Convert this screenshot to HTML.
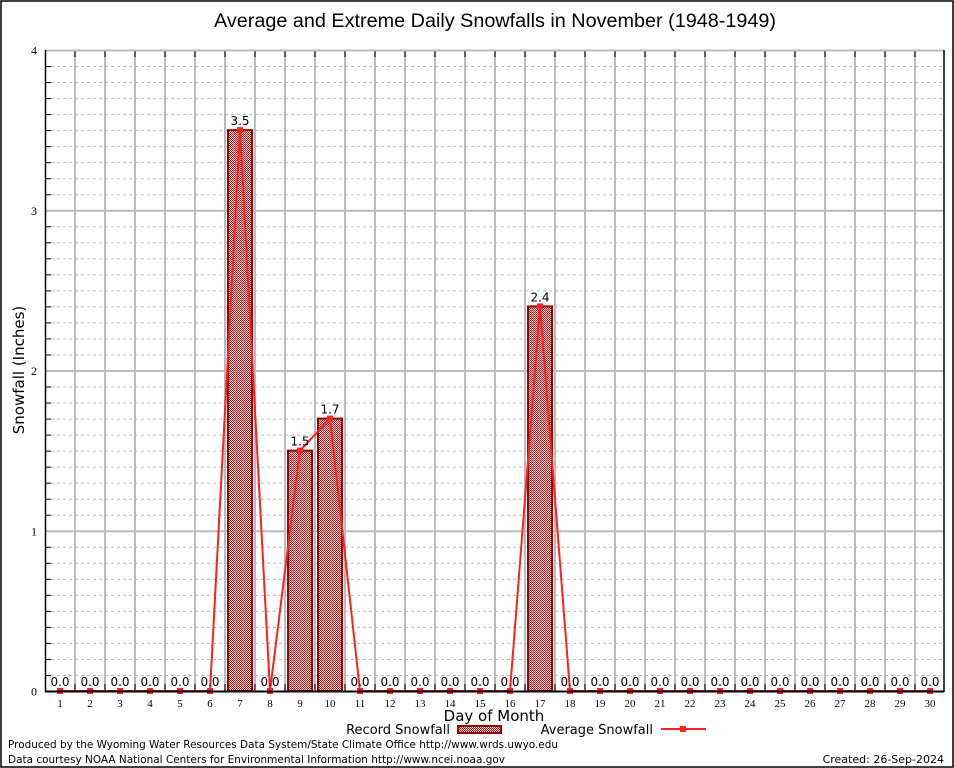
<!DOCTYPE html>
<html><head><meta charset="utf-8"><style>
body{margin:0;background:#fff}
svg{display:block;font-family:"DejaVu Sans","Liberation Sans",sans-serif}
</style></head><body>
<svg id="c" width="954" height="768" xmlns="http://www.w3.org/2000/svg">
<defs>
<pattern id="hatch" width="2" height="2" patternUnits="userSpaceOnUse">
<rect width="2" height="2" fill="#f4d0d0"/>
<rect width="1" height="1" fill="#b01010"/>
<rect x="1" y="1" width="1" height="1" fill="#c03030"/>
</pattern>
</defs>
<rect x="1" y="1" width="952" height="766" fill="#fff" stroke="#000" stroke-width="1.5"/>
<text x="495" y="27" font-size="19" text-anchor="middle" textLength="562" lengthAdjust="spacingAndGlyphs" font-family="Liberation Sans, sans-serif">Average and Extreme Daily Snowfalls in November (1948-1949)</text>
<g id="grid"></g>
<g id="bars"></g>
<g id="line"></g>
<g id="labels"></g>
<g id="axes"></g>
<text x="24" y="370" font-size="15" text-anchor="middle" transform="rotate(-90 24 370)">Snowfall (Inches)</text>
<text x="494" y="721" font-size="15" text-anchor="middle">Day of Month</text>
<g>
<text x="450" y="734" font-size="13" text-anchor="end">Record Snowfall</text>
<rect x="458" y="726" width="43" height="7" fill="url(#hatch)" stroke="#990000" stroke-width="2"/>
<text x="653" y="734" font-size="13" text-anchor="end">Average Snowfall</text>
<line x1="661" y1="729" x2="706" y2="729" stroke="#ff2020" stroke-width="2"/>
<rect x="680" y="726" width="6" height="6" fill="#ff2020"/>
</g>
<text x="8" y="748" font-size="11" textLength="550" lengthAdjust="spacingAndGlyphs">Produced by the Wyoming Water Resources Data System/State Climate Office http://www.wrds.uwyo.edu</text>
<text x="8" y="763" font-size="11" textLength="497" lengthAdjust="spacingAndGlyphs">Data courtesy NOAA National Centers for Environmental Information http://www.ncei.noaa.gov</text>
<text x="944" y="763" font-size="11" text-anchor="end">Created:  26-Sep-2024</text>
</svg>
<script>
const days=[1,2,3,4,5,6,7,8,9,10,11,12,13,14,15,16,17,18,19,20,21,22,23,24,25,26,27,28,29,30];
const recordValues=[0,0,0,0,0,0,3.5,0,1.5,1.7,0,0,0,0,0,0,2.4,0,0,0,0,0,0,0,0,0,0,0,0,0];
const averageValues=[0,0,0,0,0,0,3.5,0,1.5,1.7,0,0,0,0,0,0,2.4,0,0,0,0,0,0,0,0,0,0,0,0,0];
const yTicks=[0,1,2,3,4];
const NS="http://www.w3.org/2000/svg";
const L=45,R=944,T=50,B=691,yMax=4;
const x=d=>60+(d-1)*30;
const y=v=>B-(v/yMax)*(B-T);
function mk(tag,attrs,parent,txt){const e=document.createElementNS(NS,tag);for(const k in attrs)e.setAttribute(k,attrs[k]);if(txt!==undefined)e.textContent=txt;document.getElementById(parent).appendChild(e);return e;}
for(let i=1;i<yMax*10;i++){if(i%10===0)continue;const yy=y(i/10)+0.5;
const g=mk('line',{x1:L,x2:R,y1:yy,y2:yy,stroke:'#bbb','stroke-dasharray':'3,3'},'grid');


mk('line',{x1:L,x2:L+6,y1:yy,y2:yy,stroke:'#000'},'axes');}
yTicks.forEach(t=>{const yy=y(t)+0.5;
if(t>0){const g=mk('line',{x1:L,x2:R,y1:yy,y2:yy,stroke:'#bbb','stroke-width':2},'grid');

}
const tl=mk('text',{x:L-8,y:yy+4,'font-size':12,'text-anchor':'end','font-family':'Liberation Serif, serif'},'axes',String(t));

});
for(let i=1;i<days.length;i++){const xx=x(days[i])-15;
const g=mk('line',{x1:xx,x2:xx,y1:T,y2:B,stroke:'#bbb','stroke-width':2},'grid');


mk('line',{x1:xx,x2:xx,y1:T,y2:T+7,stroke:'#000'},'axes');
mk('line',{x1:xx,x2:xx,y1:B,y2:B-7,stroke:'#000'},'axes');}
days.forEach((d,i)=>{
const v=recordValues[i];
if(v>0){const b=mk('rect',{x:x(d)-12,y:y(v),width:24,height:B-y(v),fill:'url(#hatch)',stroke:'#990000','stroke-width':2},'bars');

}
const lb=mk('text',{x:x(d),y:y(v)-5,'font-size':12,'text-anchor':'middle'},'labels',v.toFixed(1));


const tl=mk('text',{x:x(d),y:B+16,'font-size':11,'text-anchor':'middle','font-family':'Liberation Serif, serif'},'axes',String(d));

});
const pts=days.map((d,i)=>x(d)+','+y(averageValues[i])).join(' ');
const pl=mk('polyline',{points:pts,fill:'none',stroke:'#ff2020','stroke-width':2},'line');


days.forEach((d,i)=>{const m=mk('rect',{x:x(d)-3,y:y(averageValues[i])-3,width:6,height:6,fill:'#ff2020'},'line');

});
mk('line',{x1:L,x2:R,y1:T+0.5,y2:T+0.5,stroke:'#bbb','stroke-width':2},'axes');
mk('line',{x1:L+0.5,x2:L+0.5,y1:T,y2:B+1,stroke:'#000','stroke-width':1.5},'axes');
mk('line',{x1:R,x2:R,y1:T,y2:B+1,stroke:'#000','stroke-width':1.5},'axes');
mk('line',{x1:L,x2:R,y1:B+0.5,y2:B+0.5,stroke:'#000','stroke-width':2},'axes');
</script>
</body></html>
